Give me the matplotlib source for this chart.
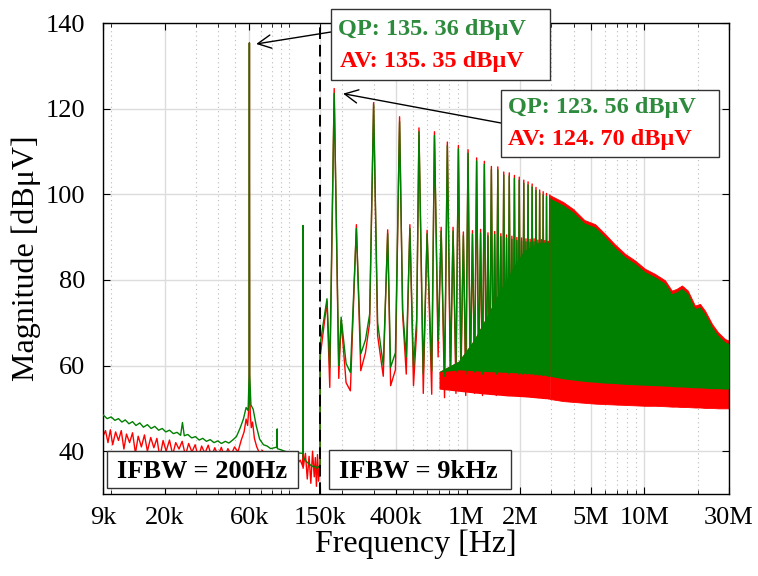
import numpy as np
import matplotlib
matplotlib.use("Agg")
import matplotlib.pyplot as plt
from matplotlib.patches import Rectangle
from matplotlib.ticker import FixedLocator, FixedFormatter, LogLocator, NullFormatter

# =====================================================
# DATA
# =====================================================

# 9k - 150k, IFBW = 200 Hz
qp_low_f_khz = [9, 9.5, 10, 10.5, 11, 11.5, 12, 12.6, 13.2, 13.8, 14.5, 15.2, 16, 16.8,
                17.6, 18.5, 19.4, 20.3, 21.3, 22.4, 23.5, 24.6, 25.2, 25.8, 27, 28.4,
                29.8, 31.3, 32.8, 34.4, 36.1, 37.9, 39.8, 41.8, 43.9, 46, 48.3, 50.7,
                53.2, 55.5, 57.5, 59.0, 59.8, 60, 60.2, 61.2, 63, 65.5, 68.5, 72, 75.5,
                79, 83, 85.8, 86, 86.2, 92, 98, 105, 112, 119.7, 120, 120.3, 126, 132,
                138, 141, 144, 147, 149.9]
qp_low = [48.5, 47.6, 48.0, 47.2, 47.6, 46.8, 47.3, 46.4, 46.9, 46.0, 46.6, 45.6, 46.2, 45.3,
          45.8, 44.9, 45.3, 44.5, 44.9, 44.1, 44.4, 43.7, 46.7, 43.6, 43.9, 43.1,
          43.4, 42.6, 43.0, 42.3, 42.7, 42.0, 42.4, 41.8, 42.3, 41.9, 42.6, 43.4,
          45.4, 47.5, 50.2, 49.5, 58.0, 135.36, 58.0, 50.8, 49.8, 46.0, 42.8, 41.5, 41.2,
          40.6, 40.8, 41.0, 45.2, 40.6, 40.2, 39.8, 39.9, 39.6, 39.5, 92.7, 38.5, 37.5, 36.8,
          36.3, 36.5, 36.0, 36.4, 36.2]

av_low_f_khz = [9, 9.3, 9.6, 9.9, 10.2, 10.6, 11, 11.4, 11.8, 12.2, 12.7, 13.2, 13.7, 14.2,
                14.8, 15.4, 16, 16.7, 17.4, 18.1, 18.8, 19.6, 20.4, 21.3, 22.2, 23.1,
                24.1, 25.1, 26.2, 27.3, 28.5, 29.7, 31, 32.3, 33.7, 35.2, 36.7, 38.3,
                40, 41.7, 43.5, 45.4, 47.4, 49.5, 51.7, 53.9, 56, 57.5, 58.6, 59.3,
                59.8, 60, 60.2, 60.7, 61.5, 62.5, 64, 66, 68.5, 71, 74, 77, 80, 84, 88,
                93, 98, 104, 110, 116, 119.7, 120, 120.3, 124, 127, 130, 133, 136, 139,
                141, 143, 145, 147, 149.9]
av_low = [43.5, 44.8, 42.0, 45.0, 41.5, 44.5, 42.5, 44.8, 40.5, 44.0, 42.0, 44.3, 39.5, 43.5,
          41.0, 43.8, 40.0, 43.2, 40.8, 43.0, 38.5, 42.5, 40.0, 42.6, 39.2, 42.0,
          40.5, 42.3, 39.0, 41.8, 39.8, 41.5, 38.5, 41.2, 39.5, 41.4, 38.8, 40.8,
          39.0, 40.9, 38.5, 40.6, 39.2, 41.0, 39.8, 42.5, 44.5, 47.5, 46.0, 49.0,
          56.0, 135.35, 56.0, 48.5, 45.5, 46.8, 43.0, 41.0, 39.5, 40.2, 38.5, 39.6, 38.0, 39.2, 37.5,
          38.8, 37.2, 38.3, 36.8, 37.9, 36.5, 92.7, 36.0, 39.5, 33.5, 38.8, 32.5, 40.0, 34.0,
          38.5, 31.8, 39.2, 33.0, 37.5]

# 150k - 2.94M, IFBW = 9 kHz: harmonic peaks and valleys
mid_f_khz = [150, 164, 170, 180, 191, 197, 210, 222, 240, 254, 270, 285, 300,
             316, 340, 360, 374, 398, 420, 437, 458, 480, 503, 524, 540,
             571, 600, 637, 660, 692, 720, 752, 780,
             812, 840, 872, 900,
             930, 960, 990, 1020, 1050, 1080, 1110, 1140, 1170, 1200,
             1230, 1260, 1290, 1320, 1350, 1380, 1410, 1440, 1470, 1500,
             1530, 1560, 1590, 1620, 1650, 1680, 1710, 1740, 1770, 1800,
             1830, 1860, 1890, 1920, 1950, 1980, 2010, 2040, 2070, 2100,
             2130, 2160, 2190, 2220, 2250, 2280, 2310, 2340, 2370, 2400,
             2430, 2460, 2490, 2520, 2550, 2580, 2610, 2640, 2670, 2700,
             2730, 2760, 2790, 2820, 2850, 2880, 2910, 2940]
mid_qp = [65.0, 75.6, 59.6, 123.56, 60.0, 71.3, 60.5, 58.4, 92.0, 62.7, 66.0, 72.0, 121.0,
          70.0, 60.0, 90.8, 59.6, 63.0, 117.0, 73.0, 62.0, 92.0, 59.6, 70.8, 114.6,
          58.0, 90.8, 58.7, 113.7, 65.8, 91.4, 57.5, 111.4,
          60.0, 91.4, 58.5, 110.6,
          60.5, 90.4, 58.0, 109.6, 59.5, 90.7, 58.5, 107.8, 60.0, 91.0,
          58.0, 107.0, 59.0, 90.3, 58.5, 105.8, 59.5, 90.6, 58.0, 105.7,
          59.0, 90.1, 58.5, 104.5, 59.5, 89.8, 58.0, 104.3, 59.0, 89.5,
          58.5, 103.7, 59.0, 89.2, 58.0, 103.3, 58.5, 89.1, 58.0, 102.6,
          58.5, 88.9, 58.0, 102.2, 58.5, 88.8, 58.0, 101.7, 58.3, 88.9,
          57.8, 100.9, 58.2, 88.6, 57.8, 100.3, 58.1, 88.7, 57.7, 99.9,
          58.0, 88.5, 57.6, 99.5, 57.9, 88.3, 57.5, 99.1]
mid_av = [62.0, 75.0, 54.9, 124.70, 57.0, 70.5, 56.0, 54.1, 92.9, 58.8, 63.0, 70.0, 121.4,
          67.0, 57.5, 91.7, 55.3, 59.0, 118.1, 72.0, 58.0, 92.9, 55.3, 68.0, 115.5,
          53.5, 91.6, 53.3, 114.6, 62.0, 92.3, 52.5, 112.2,
          55.0, 92.3, 53.5, 111.4,
          56.0, 91.2, 53.0, 110.4, 54.5, 91.5, 53.5, 108.5, 55.0, 91.8,
          53.0, 107.7, 54.0, 91.0, 53.5, 106.5, 54.5, 91.3, 53.0, 106.4,
          54.0, 90.8, 53.5, 105.2, 54.5, 90.5, 53.0, 105.0, 54.0, 90.2,
          53.5, 104.4, 54.0, 89.9, 53.0, 104.0, 53.5, 89.8, 53.0, 103.3,
          53.2, 89.6, 52.8, 102.9, 53.1, 89.5, 52.7, 102.4, 53.0, 89.6,
          52.6, 101.6, 52.9, 89.3, 52.5, 101.0, 52.8, 89.4, 52.4, 100.6,
          52.7, 89.2, 52.3, 100.2, 52.6, 89.0, 52.2, 99.8]

# 0.7M - 2.94M: region under the even harmonics that reads as solid colour
solid_f_mhz = [0.7, 0.9, 1.1, 1.3, 1.5, 1.7, 1.9, 2.1, 2.4, 2.7, 2.94]
solid_qp_top = [58.6, 61.0, 66.0, 71.5, 76.5, 80.5, 84.0, 86.8, 88.2, 88.8, 88.8]
solid_qp_bot = [58.5, 59.0, 58.8, 58.6, 58.5, 58.4, 58.3, 58.2, 58.0, 57.8, 57.5]
solid_av_bot = [54.5, 54.0, 53.6, 53.3, 53.1, 52.9, 52.8, 52.7, 52.5, 52.3, 52.2]

# 2.94M - 30M: harmonics too dense to resolve -> envelopes
dense_f_mhz = [2.94, 3.5, 4.0, 4.6, 5.3, 6.0, 6.8, 7.8, 8.9, 10.1, 11.5,
               13.1, 14.3, 15.2, 16.3, 17.6, 19.3, 20.6, 22.0, 24.1, 26.0, 28.5, 30.0]
dense_av_top = [99.8, 98.2, 96.5, 94.0, 93.0, 90.8, 88.4, 86.1, 84.5, 82.6, 81.4,
                79.9, 77.5, 77.9, 78.7, 77.5, 74.0, 74.4, 72.8, 69.7, 67.8, 66.2, 65.8]
dense_qp_top = [99.1, 97.5, 95.8, 93.3, 92.3, 90.1, 87.7, 85.4, 83.8, 81.9, 80.7,
                79.2, 76.8, 77.2, 78.0, 76.8, 73.3, 73.7, 72.1, 69.0, 67.1, 65.5, 65.1]
dense_qp_bot = [57.5, 56.9, 56.6, 56.3, 56.1, 55.9, 55.8, 55.6, 55.5, 55.4, 55.3,
                55.2, 55.1, 55.0, 55.0, 54.9, 54.8, 54.8, 54.7, 54.6, 54.6, 54.5, 54.5]
dense_av_bot = [52.2, 51.7, 51.5, 51.3, 51.1, 51.0, 50.9, 50.8, 50.7, 50.6, 50.6,
                50.5, 50.4, 50.4, 50.3, 50.3, 50.2, 50.2, 50.1, 50.1, 50.0, 50.0, 50.0]

tick_f = [9e3, 2e4, 6e4, 1.5e5, 4e5, 1e6, 2e6, 5e6, 1e7, 3e7]
tick_labels = ["9k", "20k", "60k", "150k", "400k", "1M", "2M", "5M", "10M", "30M"]

GREEN = "#008000"
RED = "#ff0000"
TXT_GREEN = "#2e8b3e"

# =====================================================
# PLOT
# =====================================================

plt.rcParams["font.family"] = ["Liberation Serif", "DejaVu Serif"]

fig = plt.figure(figsize=(7.58, 5.76), dpi=100)
ax = fig.add_axes([103 / 758, 82 / 576, 626 / 758, 471 / 576])

qp_f = np.array(qp_low_f_khz + mid_f_khz) * 1e3
qp_v = np.array(qp_low + mid_qp)
av_f = np.array(av_low_f_khz + mid_f_khz) * 1e3
av_v = np.array(av_low + mid_av)
sf = np.array(solid_f_mhz) * 1e6
df = np.array(dense_f_mhz) * 1e6

# AV underneath, QP on top
ax.fill_between(sf, solid_av_bot, solid_qp_top, color=RED, lw=0, zorder=2)
ax.plot(av_f, av_v, color=RED, lw=1.0, zorder=2)
ax.fill_between(df, dense_av_bot, dense_av_top, color=RED, lw=0.6, zorder=2)
ax.fill_between(sf, solid_qp_bot, solid_qp_top, color=GREEN, lw=0, zorder=3)
ax.plot(qp_f, qp_v, color=GREEN, lw=1.0, zorder=3)
ax.fill_between(df, dense_qp_bot, dense_qp_top, color=GREEN, lw=0, zorder=3)

ax.axvline(1.5e5, color="k", ls=(0, (6, 3)), lw=1.4, zorder=5)

ax.set_xscale("log")
ax.set_xlim(9e3, 3e7)
ax.set_ylim(30, 140)
ax.set_yticks([40, 60, 80, 100, 120, 140])
ax.xaxis.set_major_locator(FixedLocator(tick_f))
ax.xaxis.set_major_formatter(FixedFormatter(tick_labels))
ax.xaxis.set_minor_locator(LogLocator(base=10, subs=np.arange(1, 10)))
ax.xaxis.set_minor_formatter(NullFormatter())

ax.grid(which="major", color="#dcdcdc", lw=1.0, zorder=0)
ax.xaxis.grid(which="minor", color="#bbbbbb", ls=(0, (1, 3)), lw=0.8, zorder=0)
ax.set_axisbelow(True)

ax.tick_params(which="both", direction="in", top=True, right=True, labelsize=19)
ax.tick_params(which="major", length=5, width=0.8)
ax.tick_params(which="minor", length=3, width=0.6)
ax.tick_params(axis="y", pad=13)
ax.tick_params(axis="x", pad=9)
for s in ax.spines.values():
    s.set_linewidth(1.0)

ax.set_xlabel("Frequency [Hz]", fontsize=23, labelpad=1)
ax.set_ylabel("Magnitude [dBμV]", fontsize=23, labelpad=3)

# annotation boxes (figure pixels, origin bottom-left)
def box(x0, y0, w, h):
    r = Rectangle((x0 / 758, y0 / 576), w / 758, h / 576, transform=fig.transFigure,
                  facecolor="white", edgecolor="#333333", lw=1.0, zorder=10)
    fig.add_artist(r)

box(331, 496, 219, 71)
box(501, 419, 218, 67)
box(107, 88, 191, 37)
box(329, 87, 182, 39)

tkw = dict(fontsize=17.5, fontweight="bold", va="center", ha="left", zorder=11)
fig.text(338 / 758, 547 / 576, "QP: 135. 36 dBμV", color=TXT_GREEN, **tkw)
fig.text(340 / 758, 515 / 576, "AV: 135. 35 dBμV", color=RED, **tkw)
fig.text(508 / 758, 469 / 576, "QP: 123. 56 dBμV", color=TXT_GREEN, **tkw)
fig.text(508 / 758, 437 / 576, "AV: 124. 70 dBμV", color=RED, **tkw)

bkw = dict(fontsize=19, fontweight="bold", va="center", ha="center", color="k", zorder=11)
fig.text(202 / 758, 105 / 576, "IFBW = 200Hz", **bkw)
fig.text(418 / 758, 105 / 576, "IFBW = 9kHz", **bkw)

akw = dict(arrowstyle="->", color="k", lw=1.0, mutation_scale=24, shrinkA=0, shrinkB=0)
ax.annotate("", xy=(65.5e3, 135.1), xycoords="data", xytext=(331, 544),
            textcoords="figure pixels", arrowprops=akw, zorder=9)
ax.annotate("", xy=(202e3, 123.5), xycoords="data", xytext=(501, 453),
            textcoords="figure pixels", arrowprops=akw, zorder=9)

fig.savefig("out.png", dpi=100)
plt.close(fig)
